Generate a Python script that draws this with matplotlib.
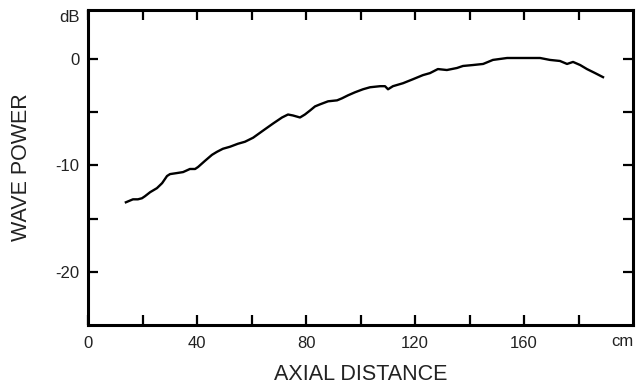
import matplotlib
matplotlib.use("Agg")
from matplotlib import pyplot as plt

plt.rcParams['font.family'] = ['Liberation Sans', 'DejaVu Sans']

# axial distance (cm) and wave power (dB)
dist = [13.9, 16.5, 18.3, 19.8, 20.9, 22.8, 25.3, 27.2, 29.0, 30.1,
        32.7, 34.9, 37.4, 39.3, 40.4, 42.9, 45.5, 47.3, 49.5, 52.1,
        55.0, 57.6, 60.6, 64.2, 67.9, 71.2, 73.4, 75.2, 77.8, 79.6,
        81.5, 83.3, 85.1, 88.1, 91.4, 93.2, 95.4, 98.0, 100.9, 103.5,
        107.2, 109.0, 110.1, 111.9, 115.6, 119.3, 122.9, 125.5, 128.4, 131.7,
        135.4, 137.6, 141.3, 145.0, 146.8, 148.6, 153.8, 157.4, 162.2, 165.9,
        169.5, 173.2, 175.8, 178.0, 180.6, 183.1, 186.1, 189.0]
power = [-13.47, -13.19, -13.19, -13.09, -12.90, -12.52, -12.14, -11.67, -11.00, -10.82,
         -10.72, -10.63, -10.34, -10.34, -10.15, -9.58, -9.01, -8.73, -8.44, -8.25,
         -7.97, -7.78, -7.40, -6.74, -6.07, -5.50, -5.22, -5.31, -5.50, -5.22,
         -4.84, -4.46, -4.27, -3.98, -3.89, -3.70, -3.42, -3.13, -2.85, -2.66,
         -2.56, -2.56, -2.85, -2.56, -2.28, -1.90, -1.52, -1.33, -0.95, -1.04,
         -0.85, -0.66, -0.57, -0.47, -0.28, -0.09, 0.09, 0.09, 0.09, 0.09,
         -0.09, -0.19, -0.47, -0.28, -0.57, -0.95, -1.33, -1.71]

xticks = [0, 20, 40, 60, 80, 100, 120, 140, 160, 180]
xlabels = ['0', '', '40', '', '80', '', '120', '', '160', '']
yticks = [0, -5, -10, -15, -20]
ylabels = ['0', '', '-10', '', '-20']

fig = plt.figure(figsize=(6.44, 3.85), dpi=100)
ax = fig.add_axes([88/644, 60/385, 545/644, 315/385])

ax.plot(dist, power, color='black', linewidth=1.7)

ax.set_xlim(0, 200)
ax.set_ylim(-25, 4.6)

ax.set_xticks(xticks)
ax.set_xticklabels(xlabels)
ax.set_yticks(yticks)
ax.set_yticklabels(ylabels)

for s in ax.spines.values():
    s.set_linewidth(2.2)

ax.tick_params(direction='in', length=7.3, width=1.6, top=True, right=True,
               labelsize=12, labelcolor='#222222')
ax.tick_params(axis='x', pad=8)
ax.tick_params(axis='y', pad=6)

# unit labels at the ends of the axes
ax.text(-0.015, 0.975, 'dB', transform=ax.transAxes, ha='right', va='center',
        fontsize=12, color='#222222')
ax.text(1.0, -0.03, 'cm', transform=ax.transAxes, ha='right', va='top',
        fontsize=12, color='#222222')

ax.set_xlabel('AXIAL DISTANCE', fontsize=15.5, labelpad=9, color='#222222')
ax.set_ylabel('WAVE POWER', fontsize=15.5, labelpad=17, color='#222222')

fig.savefig('out.png', dpi=100)
